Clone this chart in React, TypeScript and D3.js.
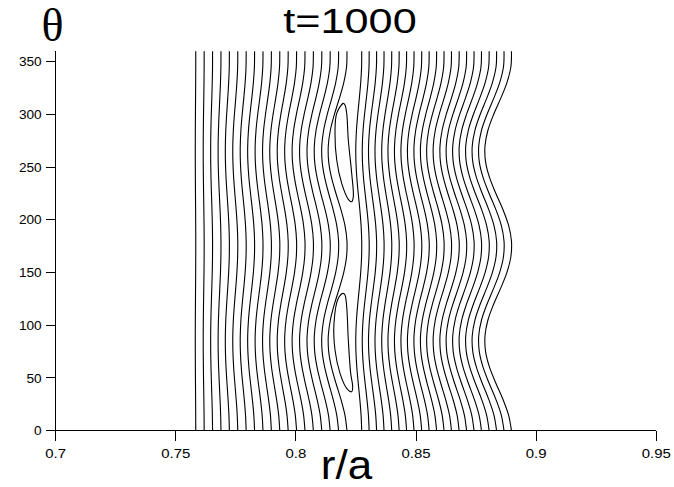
import React from "react";
import * as d3 from "d3";

// ---- data ----
const xTicks = [0.7, 0.75, 0.8, 0.85, 0.9, 0.95];
const xTickLabels = ["0.7", "0.75", "0.8", "0.85", "0.9", "0.95"];
const yTicks = [0, 50, 100, 150, 200, 250, 300, 350];
const yTickLabels = ["0", "50", "100", "150", "200", "250", "300", "350"];

// angular knots (deg) and the common poloidal bow profile (m=2, O-points near 85° / 266°)
const thetaKnots = [0, 15, 30, 45, 60, 75, 90, 105, 120, 135, 150, 165, 180, 195, 210, 225, 240, 255, 270, 285, 300, 315, 330, 345, 360];
const bowProfile = [-0.008, -0.117, -0.329, -0.587, -0.821, -0.97, -0.992, -0.883, -0.671, -0.413, -0.179, -0.03, -0.008, -0.117, -0.329, -0.587, -0.821, -0.97, -0.992, -0.883, -0.671, -0.413, -0.179, -0.03, -0.008];

// contour lines inside the island (r at X-point angle, leftward bow amplitude)
const innerR0 = [0.7583, 0.7618, 0.7653, 0.7688, 0.7723, 0.7758, 0.7793, 0.7828, 0.7863, 0.7898, 0.7933, 0.7968, 0.8003, 0.8038, 0.8073, 0.8108, 0.8143, 0.8178, 0.8213];
const innerBow = [0.0002, 0.0004, 0.0008, 0.0012, 0.0017, 0.0021, 0.0025, 0.0029, 0.0033, 0.0037, 0.0042, 0.0046, 0.005, 0.0054, 0.0058, 0.0062, 0.0067, 0.0071, 0.0079];
// contour lines outside the island
const outerR0 = [0.8274, 0.8305, 0.8336, 0.8367, 0.8399, 0.843, 0.8461, 0.8492, 0.8524, 0.8555, 0.8586, 0.8617, 0.8648, 0.868, 0.8711, 0.8742, 0.8773, 0.8805, 0.8836, 0.8867, 0.8898];
const outerBow = [0.0025, 0.0029, 0.0034, 0.0038, 0.0042, 0.0047, 0.0051, 0.0055, 0.006, 0.0064, 0.0068, 0.0073, 0.0077, 0.0081, 0.0086, 0.009, 0.0094, 0.0099, 0.0103, 0.0107, 0.0112];

// island loops: [r, theta]
const island1R = [0.81971, 0.81763, 0.81584, 0.81626, 0.81834, 0.82113, 0.82321, 0.82363, 0.82279, 0.8218, 0.82113, 0.82042];
const island1T = [130.3, 125.6, 101.9, 76.5, 54.4, 40.2, 37, 41.7, 54.4, 86, 117.6, 128.7];
const island2R = [0.81971, 0.81697, 0.81626, 0.81697, 0.81905, 0.8218, 0.82321, 0.82388, 0.82321, 0.8218, 0.82113, 0.82042];
const island2T = [310.5, 301, 282, 256.8, 234.6, 219.5, 217.2, 222, 244, 275.7, 301, 309];

const titleText = "t=1000";
const xLabel = "r/a";
const yLabel = "θ";

export default function App() {
  const W = 674, H = 487;
  const x = d3.scaleLinear().domain([0.7, 0.95]).range([55.7, 656.3]);
  const y = d3.scaleLinear().domain([0, 360]).range([430.7, 51.2]);

  const line = d3
    .line<[number, number]>()
    .x((d) => x(d[0]))
    .y((d) => y(d[1]))
    .curve(d3.curveCatmullRom);
  const loop = d3
    .line<[number, number]>()
    .x((d) => x(d[0]))
    .y((d) => y(d[1]))
    .curve(d3.curveCatmullRomClosed);

  const r0s = [...innerR0, ...outerR0];
  const bows = [...innerBow, ...outerBow];
  const paths = r0s.map((r0, i) =>
    line(thetaKnots.map((t, j) => [r0 + bows[i] * bowProfile[j], t] as [number, number]))
  );
  const islands = [
    island1R.map((r, i) => [r, island1T[i]] as [number, number]),
    island2R.map((r, i) => [r, island2T[i]] as [number, number]),
  ];

  const font = "'Liberation Sans', Arial, Helvetica, sans-serif";
  const x0 = x(0.7), y0 = y(0), yTop = y(360), xEnd = x(0.95);

  return (
    <svg width={W} height={H} style={{ position: "absolute", left: 0, top: 0, background: "#fff" }}>
      <rect width={W} height={H} fill="#fff" />
      {/* contour lines */}
      <g fill="none" stroke="#000" strokeWidth={1.1}>
        {paths.map((p, i) => (
          <path key={i} d={p || ""} />
        ))}
        {islands.map((pts, i) => (
          <path key={"is" + i} d={loop(pts) || ""} />
        ))}
      </g>
      {/* axes */}
      <g stroke="#000" strokeWidth={1} shapeRendering="crispEdges">
        <line x1={x0} x2={xEnd} y1={y0} y2={y0} />
        <line x1={x0} x2={x0} y1={y0} y2={yTop} />
        {xTicks.map((t) => (
          <line key={"xt" + t} x1={x(t)} x2={x(t)} y1={y0} y2={y0 + 10} />
        ))}
        {yTicks.map((t) => (
          <line key={"yt" + t} x1={x0 - 10} x2={x0} y1={y(t)} y2={y(t)} />
        ))}
      </g>
      <g fontFamily={font} fontSize={13} fill="#000">
        {xTicks.map((t, i) => (
          <text key={"xl" + t} transform={`translate(${x(t)},${y0 + 27}) scale(1.15,1)`} textAnchor="middle">
            {xTickLabels[i]}
          </text>
        ))}
        {yTicks.map((t, i) => (
          <text key={"yl" + t} transform={`translate(${x0 - 14},${y(t) + 4.6}) scale(1.05,1)`} textAnchor="end">
            {yTickLabels[i]}
          </text>
        ))}
      </g>
      <text transform="translate(350,32.5) scale(1.2,1)" textAnchor="middle" fontFamily={font} fontSize={36} fill="#000">
        {titleText}
      </text>
      <text transform="translate(346.5,479) scale(1.1,1)" textAnchor="middle" fontFamily={font} fontSize={40} fill="#000">
        {xLabel}
      </text>
      <text x={52.5} y={41} textAnchor="middle" fontFamily="'Liberation Serif', 'Times New Roman', serif" fontSize={46} fill="#000">
        {yLabel}
      </text>
    </svg>
  );
}
